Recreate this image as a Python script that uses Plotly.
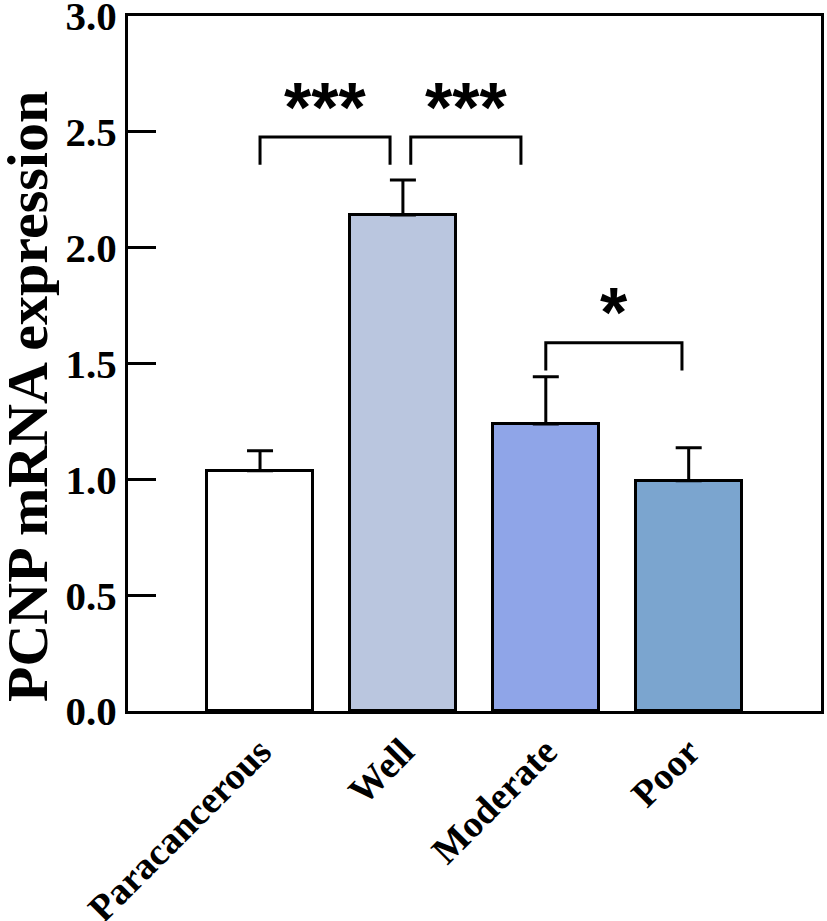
import plotly.graph_objects as go

categories = ["Paracancerous", "Well", "Moderate", "Poor"]
means = [1.037, 2.141, 1.239, 0.994]
errors = [0.087, 0.152, 0.204, 0.143]
colors = ["#FFFFFF", "#BAC6DF", "#8FA5E8", "#7BA5CF"]

# significance brackets: (x start, x end, bracket height, label)
brk_x0 = [0.0, 1.055, 2.0]
brk_x1 = [0.91, 1.826, 2.953]
brk_y = [2.478, 2.478, 1.590]
brk_labels = ["***", "***", "*"]
leg_len = 0.12
label_gap = -0.05

ytick_vals = [0.0, 0.5, 1.0, 1.5, 2.0, 2.5, 3.0]
ytick_text = ["0.0", "0.5", "1.0", "1.5", "2.0", "2.5", "3.0"]

FONT = "Liberation Serif"

W, H = 827, 921
ML, MT, MR, MB = 128, 16, 6, 210

fig = go.Figure()
fig.add_trace(go.Bar(
    x=list(range(len(categories))),
    y=means,
    width=0.742,
    marker=dict(color=colors, line=dict(color="black", width=3)),
    error_y=dict(type="data", array=errors, arrayminus=[0] * len(errors),
                 symmetric=False, color="black", thickness=3, width=13),
    showlegend=False,
))

for x0, x1, y, lab in zip(brk_x0, brk_x1, brk_y, brk_labels):
    fig.add_shape(type="path",
                  path=f"M {x0} {y - leg_len} L {x0} {y} L {x1} {y} L {x1} {y - leg_len}",
                  xref="x", yref="y", line=dict(color="black", width=3))
    fig.add_annotation(x=(x0 + x1) / 2, y=y + label_gap, text=lab, showarrow=False,
                       xref="x", yref="y", yanchor="bottom",
                       font=dict(family="Liberation Sans", size=70, color="black", weight="bold"))

fig.add_annotation(text="PCNP mRNA expression", textangle=-90, showarrow=False,
                   xref="paper", yref="paper", x=-0.146, y=0.453,
                   xanchor="center", yanchor="middle",
                   font=dict(family=FONT, size=58, color="black", weight="bold"))

fig.update_layout(
    width=W, height=H,
    margin=dict(l=ML, r=MR, t=MT, b=MB),
    paper_bgcolor="white", plot_bgcolor="white",
    font=dict(family=FONT, color="black", weight="bold"),
    bargap=0,
)
fig.update_xaxes(
    range=[-0.924, 3.926], automargin=False,
    tickvals=list(range(len(categories))), ticktext=categories,
    tickangle=-45, tickfont=dict(family=FONT, size=38, weight="bold"),
    ticklabeloverflow="allow",
    showline=True, linecolor="black", linewidth=3, mirror=True,
    ticks="", showgrid=False, zeroline=False,
)
fig.update_yaxes(
    range=[0, 3.0005], automargin=False,
    tickvals=ytick_vals, ticktext=ytick_text,
    tickfont=dict(family=FONT, size=41, weight="bold"),
    ticklabeloverflow="allow",
    ticks="inside", ticklen=28, tickwidth=3, tickcolor="black",
    showline=True, linecolor="black", linewidth=3, mirror=True,
    showgrid=False, zeroline=False,
)

fig.write_html("out.html", config={"displayModeBar": False},
               post_script="document.body.style.margin='0';")
